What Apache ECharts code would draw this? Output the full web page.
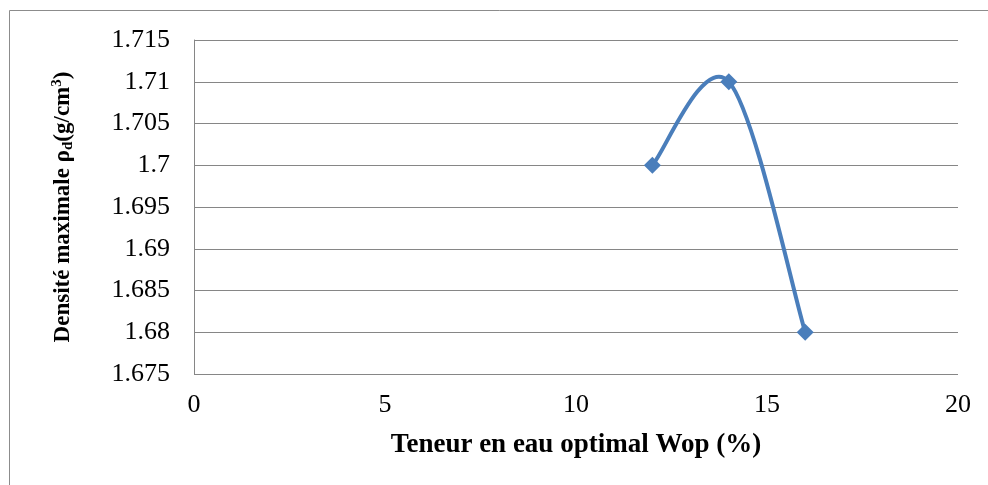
<!DOCTYPE html>
<html>
<head>
<meta charset="utf-8">
<script src="https://cdn.jsdelivr.net/npm/echarts@6/dist/echarts.min.js"></script>
<style>
  html, body { margin: 0; padding: 0; background: #fff; }
  #main { width: 988px; height: 485px; }
</style>
</head>
<body>
<div id="main"></div>
<script>
// teneur en eau (%) et densité sèche max
const waterContent = [12, 14, 16];
const dryDensity = [1.7, 1.71, 1.68];
const xTicks = { min: 0, max: 20, interval: 5 };
const yTicks = { min: 1.675, max: 1.715, interval: 0.005 };

const points = waterContent.map((w, i) => [w, dryDensity[i]]);
const serif = '"Liberation Serif", "Times New Roman", serif';
const blue = '#4a7ebb';

// courbe lissée façon tableur (Catmull-Rom -> bezier), passe par les points
function renderSpline(params, api) {
  const i = params.dataIndex;
  const n = points.length;
  if (i >= n - 1) return null;
  const c = k => api.coord(points[Math.max(0, Math.min(n - 1, k))]);
  const p0 = c(i - 1), p1 = c(i), p2 = c(i + 1), p3 = c(i + 2);
  return {
    type: 'bezierCurve',
    shape: {
      x1: p1[0], y1: p1[1],
      x2: p2[0], y2: p2[1],
      cpx1: p1[0] + (p2[0] - p0[0]) / 6, cpy1: p1[1] + (p2[1] - p0[1]) / 6,
      cpx2: p2[0] - (p3[0] - p1[0]) / 6, cpy2: p2[1] - (p3[1] - p1[1]) / 6
    },
    style: { stroke: blue, lineWidth: 4, fill: null, lineCap: 'round' }
  };
}

const chart = echarts.init(document.getElementById('main'), null, { renderer: 'canvas' });

chart.setOption({
  animation: false,
  backgroundColor: '#fff',
  textStyle: { fontFamily: serif },
  graphic: [
    {
      type: 'rect',
      shape: { x: 9.5, y: 10.5, width: 1000, height: 500 },
      style: { fill: 'none', stroke: '#8c8c8c', lineWidth: 1 },
      silent: true
    }
  ],
  grid: { left: 194, right: 30, top: 40, bottom: 111 },
  xAxis: {
    type: 'value',
    min: xTicks.min,
    max: xTicks.max,
    interval: xTicks.interval,
    name: 'Teneur en eau optimal Wop (%)',
    nameLocation: 'middle',
    nameGap: 58,
    nameTextStyle: { fontFamily: serif, fontSize: 27, fontWeight: 'bold', color: '#000' },
    axisLine: { show: false },
    axisTick: { show: false },
    splitLine: { show: false },
    axisLabel: { fontFamily: serif, fontSize: 26, color: '#000', margin: 18 }
  },
  yAxis: {
    type: 'value',
    min: yTicks.min,
    max: yTicks.max,
    interval: yTicks.interval,
    name: '{t|Densité maximale ρ}{sub|d}{t|(g/cm}{sup|3}{t|)}',
    nameLocation: 'middle',
    nameRotate: 90,
    nameGap: 118,
    nameTextStyle: {
      fontFamily: serif, fontSize: 23, fontWeight: 'bold', color: '#000',
      rich: {
        t: { fontFamily: serif, fontSize: 23, fontWeight: 'bold', color: '#000', lineHeight: 26, verticalAlign: 'middle' },
        sub: { fontFamily: serif, fontSize: 15, fontWeight: 'bold', color: '#000', lineHeight: 14, verticalAlign: 'bottom' },
        sup: { fontFamily: serif, fontSize: 15, fontWeight: 'bold', color: '#000', lineHeight: 14, verticalAlign: 'top' }
      }
    },
    axisLine: { show: true, lineStyle: { color: '#868686', width: 1 } },
    axisTick: { show: false },
    splitLine: { show: true, lineStyle: { color: '#868686', width: 1 } },
    axisLabel: {
      fontFamily: serif, fontSize: 26, color: '#000', margin: 24,
      formatter: v => String(parseFloat(v.toFixed(3)))
    }
  },
  series: [
    {
      type: 'custom',
      data: points,
      encode: { x: 0, y: 1 },
      renderItem: renderSpline,
      clip: false,
      z: 2
    },
    {
      type: 'scatter',
      data: points,
      symbol: 'diamond',
      symbolSize: 17,
      itemStyle: { color: blue, opacity: 1 },
      z: 3
    }
  ]
});
</script>
</body>
</html>
